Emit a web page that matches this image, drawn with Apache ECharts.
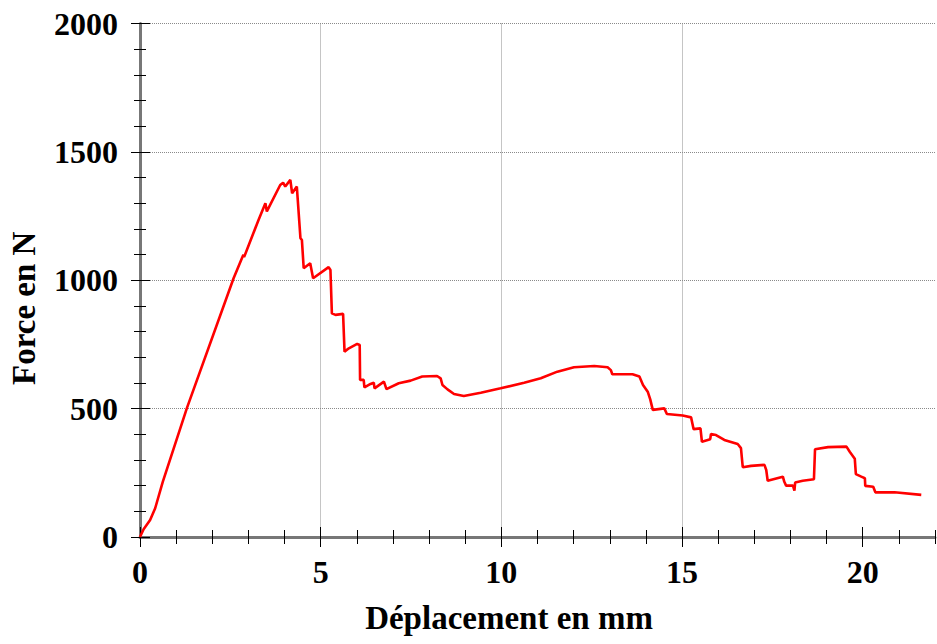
<!DOCTYPE html>
<html>
<head>
<meta charset="utf-8">
<script src="https://cdn.jsdelivr.net/npm/echarts@6/dist/echarts.min.js"></script>
<style>
html,body{margin:0;padding:0;background:#fff;}
#chart{width:937px;height:644px;}
</style>
</head>
<body>
<div id="chart"></div>
<script>
// Displacement (mm) and force (N)
var displacement = [0, 0.10, 0.28, 0.42, 0.63, 1.30, 2.59, 2.82, 2.86, 2.88, 3.28, 3.47, 3.51, 3.88, 3.96, 4.02, 4.16, 4.21, 4.34, 4.44, 4.48, 4.53, 4.71, 4.79, 5.22, 5.27, 5.31, 5.41, 5.62, 5.66, 5.78, 6.01, 6.08, 6.09, 6.19, 6.21, 6.38, 6.47, 6.49, 6.75, 6.82, 7.16, 7.49, 7.81, 8.22, 8.32, 8.37, 8.51, 8.69, 8.96, 9.43, 9.98, 10.63, 11.09, 11.55, 12.01, 12.57, 12.94, 13.03, 13.07, 13.63, 13.82, 13.92, 14.05, 14.12, 14.19, 14.51, 14.58, 15.02, 15.25, 15.32, 15.51, 15.55, 15.78, 15.80, 15.94, 16.17, 16.54, 16.63, 16.68, 16.91, 17.28, 17.33, 17.37, 17.79, 17.83, 17.88, 18.07, 18.11, 18.13, 18.34, 18.65, 18.68, 19.04, 19.55, 19.64, 19.78, 19.81, 19.96, 20.06, 20.07, 20.29, 20.35, 20.88, 21.62];
var force = [0, 30, 66, 112, 215, 503, 1008, 1086, 1099, 1090, 1235, 1300, 1268, 1371, 1380, 1365, 1391, 1339, 1365, 1164, 1157, 1047, 1066, 1008, 1051, 1040, 871, 865, 869, 722, 735, 752, 748, 612, 612, 583, 596, 601, 579, 605, 576, 599, 609, 625, 627, 618, 592, 575, 557, 549, 562, 579, 601, 618, 644, 661, 666, 661, 650, 634, 634, 625, 592, 566, 536, 495, 501, 479, 473, 466, 420, 423, 371, 381, 401, 397, 378, 362, 346, 272, 277, 281, 261, 219, 235, 215, 200, 200, 181, 212, 219, 225, 342, 350, 352, 332, 305, 245, 235, 229, 199, 196, 174, 174, 164];

var xTickLabels = [0, 5, 10, 15, 20];
var yTickLabels = [0, 500, 1000, 1500, 2000];

var xTitle = 'Déplacement en mm';
var yTitle = 'Force en N';

var FONT = "'Liberation Serif', 'Times New Roman', serif";

var seriesData = displacement.map(function (x, i) { return [x, force[i]]; });

function xAx(opts) {
  var base = {
    type: 'value', min: 0, max: 22, position: 'bottom', gridIndex: 0,
    axisLine: { show: false, onZero: false },
    axisTick: { show: false },
    axisLabel: { show: false },
    splitLine: { show: false }
  };
  return Object.assign(base, opts);
}
function yAx(opts) {
  var base = {
    type: 'value', min: 0, max: 2000, position: 'left', gridIndex: 0,
    axisLine: { show: false, onZero: false },
    axisTick: { show: false },
    axisLabel: { show: false },
    splitLine: { show: false }
  };
  return Object.assign(base, opts);
}
var tickStyle = { color: '#000', width: 1 };
var gridStyle = { color: '#8a8a8a', width: 1, type: [1, 1] };
var labelStyle = { fontFamily: FONT, fontWeight: 'bold', fontSize: 32, color: '#000' };
function plain(v) { return String(v); }

var chart = echarts.init(document.getElementById('chart'), null, { renderer: 'svg' });
chart.setOption({
  animation: false,
  backgroundColor: '#fff',
  grid: { left: 140, right: 2, top: 23.5, bottom: 107, containLabel: false, outerBoundsMode: 'none' },
  xAxis: [
    xAx({
      interval: 5,
      axisLine: { show: true, onZero: false, lineStyle: { color: '#777', width: 3 } },
      axisTick: { show: true, inside: false, length: 10, customValues: xTickLabels, lineStyle: tickStyle },
      axisLabel: Object.assign({ show: true, margin: 19, customValues: xTickLabels, formatter: plain }, labelStyle),
      splitLine: { show: true, showMinLine: false, showMaxLine: false, lineStyle: gridStyle },
      name: xTitle, nameLocation: 'middle', nameGap: 64,
      nameTextStyle: { fontFamily: FONT, fontWeight: 'bold', fontSize: 33, color: '#000', padding: [0, 57, 0, 0] }
    }),
    xAx({ interval: 5, axisTick: { show: true, inside: true, length: 10, customValues: xTickLabels, lineStyle: tickStyle } }),
    xAx({ interval: 1, axisTick: { show: true, inside: false, length: 7, lineStyle: tickStyle } }),
    xAx({ interval: 1, axisTick: { show: true, inside: true, length: 7, lineStyle: tickStyle } })
  ],
  yAxis: [
    yAx({
      interval: 500,
      axisLine: { show: true, onZero: false, lineStyle: { color: '#777', width: 3 } },
      axisTick: { show: true, inside: false, length: 9, lineStyle: tickStyle },
      axisLabel: Object.assign({ show: true, margin: 22, customValues: yTickLabels, formatter: plain }, labelStyle),
      splitLine: { show: true, showMinLine: false, lineStyle: gridStyle },
      name: yTitle, nameLocation: 'middle', nameGap: 100,
      nameTextStyle: { fontFamily: FONT, fontWeight: 'bold', fontSize: 33, color: '#000', padding: [0, 56, 0, 0] }
    }),
    yAx({ interval: 500, axisTick: { show: true, inside: true, length: 10, lineStyle: tickStyle } }),
    yAx({ interval: 100, axisTick: { show: true, inside: false, length: 6, lineStyle: tickStyle } }),
    yAx({ interval: 100, axisTick: { show: true, inside: true, length: 6, lineStyle: tickStyle } })
  ],
  series: [{
    type: 'line',
    xAxisIndex: 0, yAxisIndex: 0,
    data: seriesData,
    showSymbol: false,
    symbol: 'none',
    smooth: false,
    lineStyle: { color: '#ff0000', width: 2.6 },
    z: 10
  }]
});
</script>
</body>
</html>
